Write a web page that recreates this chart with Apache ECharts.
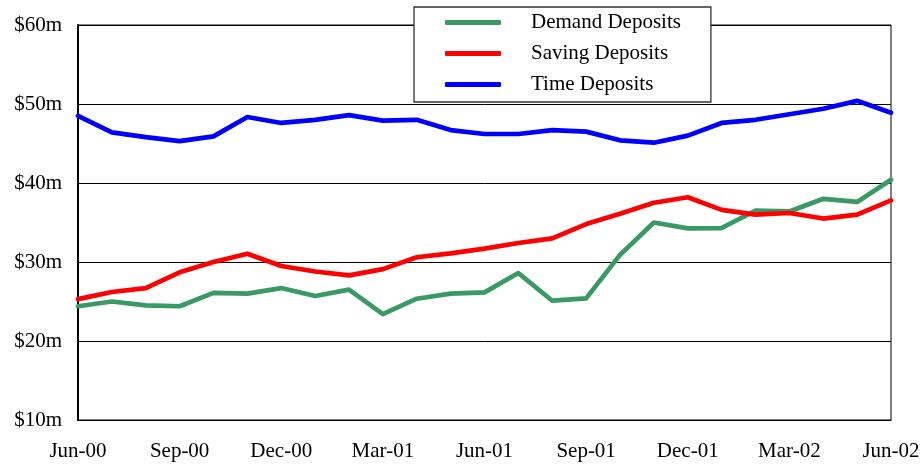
<!DOCTYPE html>
<html><head><meta charset="utf-8">
<script src="https://cdn.jsdelivr.net/npm/echarts@6/dist/echarts.min.js"></script>
<style>html,body{margin:0;padding:0;background:#fff}#c{width:924px;height:465px}</style>
</head><body><div id="c"></div>
<script>
const categories = ['Jun-00','Jul-00','Aug-00','Sep-00','Oct-00','Nov-00','Dec-00','Jan-01','Feb-01','Mar-01','Apr-01','May-01','Jun-01','Jul-01','Aug-01','Sep-01','Oct-01','Nov-01','Dec-01','Jan-02','Feb-02','Mar-02','Apr-02','May-02','Jun-02'];
const demandDeposits = [24.4,25.0,24.5,24.4,26.1,26.0,26.7,25.7,26.5,23.4,25.35,26.0,26.15,28.6,25.1,25.4,30.9,35.0,34.25,34.3,36.5,36.4,38.0,37.6,40.4];
const savingDeposits = [25.3,26.2,26.7,28.7,30.0,31.05,29.5,28.8,28.3,29.1,30.6,31.1,31.7,32.4,33.0,34.8,36.1,37.5,38.2,36.6,36.0,36.2,35.5,36.0,37.8];
const timeDeposits = [48.5,46.4,45.8,45.3,45.9,48.35,47.6,48.0,48.6,47.9,48.0,46.7,46.2,46.2,46.7,46.5,45.4,45.1,46.0,47.6,48.0,48.7,49.4,50.4,48.9];
const yTicks = {min:10, max:60, interval:10};

const font = '"Liberation Serif","Times New Roman",serif';
const chart = echarts.init(document.getElementById('c'), null, {renderer:'canvas'});
const mk = (name, data, color) => ({
  name, type:'line', data, symbol:'none', smooth:false,
  lineStyle:{color, width:4.7, cap:'round', join:'round'}, itemStyle:{color},
  emphasis:{disabled:true}, animation:false
});
chart.setOption({
  animation:false,
  backgroundColor:'#fff',
  grid:{left:78, right:33, top:25, bottom:45, show:true, borderColor:'#000', borderWidth:1, backgroundColor:'transparent'},
  legend:{
    orient:'vertical', left:414, top:7,
    backgroundColor:'#fff', borderColor:'#333', borderWidth:1.3,
    padding:[5,30,7,31],
    itemWidth:56, itemHeight:5, itemGap:10, icon:'roundRect',
    textStyle:{fontFamily:font, fontSize:21, color:'#000', lineHeight:20, padding:[0,0,0,25]},
    data:['Demand Deposits','Saving Deposits','Time Deposits'],
    z:10
  },
  xAxis:{
    type:'category', data:categories, boundaryGap:false,
    axisLine:{show:true, lineStyle:{color:'#000', width:1}},
    axisTick:{show:false},
    axisLabel:{interval:2, fontFamily:font, fontSize:21, color:'#000', margin:21},
    splitLine:{show:false}
  },
  yAxis:{
    type:'value', min:yTicks.min, max:yTicks.max, interval:yTicks.interval,
    axisLine:{show:true, lineStyle:{color:'#000', width:2}},
    axisTick:{show:false},
    axisLabel:{fontFamily:font, fontSize:21, color:'#000', margin:16, formatter:v=>'$'+v+'m'},
    splitLine:{show:true, lineStyle:{color:'#000', width:1}}
  },
  series:[
    mk('Demand Deposits', demandDeposits, '#3a9a64'),
    mk('Saving Deposits', savingDeposits, '#ff0000'),
    mk('Time Deposits', timeDeposits, '#0000ff')
  ]
});
</script></body></html>
